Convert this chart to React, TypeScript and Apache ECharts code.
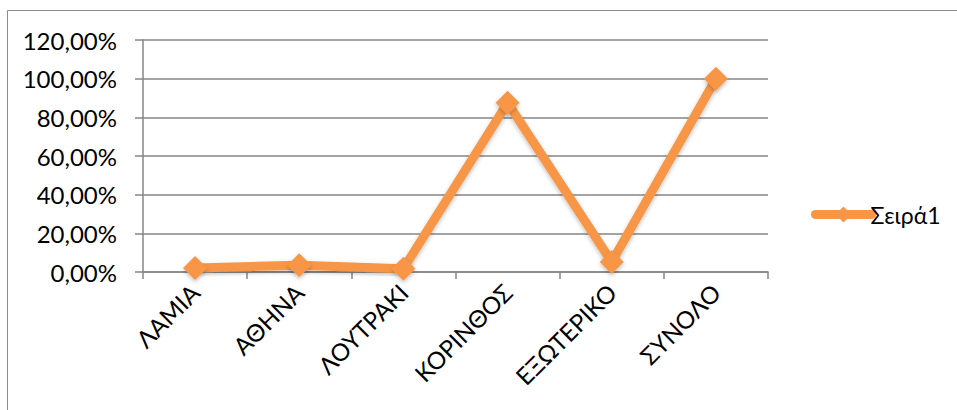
import React, { useEffect, useRef } from "react";
import * as echarts from "echarts";

const categories = ["ΛΑΜΙΑ", "ΑΘΗΝΑ", "ΛΟΥΤΡΑΚΙ", "ΚΟΡΙΝΘΟΣ", "ΕΞΩΤΕΡΙΚΟ", "ΣΥΝΟΛΟ"];
const values = [0.021, 0.035, 0.017, 0.875, 0.052, 1.0];
const seriesName = "Σειρά1";
const yTicks = { min: 0, max: 1.2, interval: 0.2 };

const FONT = "Lato, 'Open Sans', sans-serif";

export default function App() {
  const ref = useRef<HTMLDivElement>(null);
  useEffect(() => {
    if (!ref.current) return;
    const chart = echarts.init(ref.current, undefined, { renderer: "svg" });
    chart.setOption({
      animation: false,
      backgroundColor: "#fff",
      graphic: [
        {
          type: "rect",
          shape: { x: 7.5, y: 10.5, width: 960, height: 410 },
          style: { fill: "none", stroke: "#8c8c8c", lineWidth: 1 },
          silent: true,
        },
      ],
      grid: { left: 143, right: 189, top: 40, bottom: 138, containLabel: false },
      legend: {
        left: 806,
        top: 198,
        itemWidth: 56,
        itemHeight: 20,
        itemGap: 0,
        lineStyle: { width: 9, color: "#F79646", cap: "round" },
        itemStyle: { color: "#F79646" },
        textStyle: { fontFamily: FONT, fontSize: 23, color: "#000", padding: [0, 0, 0, -6] },
        data: [seriesName],
      },
      xAxis: {
        type: "category",
        data: categories,
        boundaryGap: true,
        axisLine: { lineStyle: { color: "#868686", width: 1.5 } },
        axisTick: { show: true, length: 7, lineStyle: { color: "#868686", width: 1.5 } },
        axisLabel: {
          rotate: 45,
          margin: 16,
          fontFamily: FONT,
          fontSize: 24,
          color: "#000",
          interval: 0,
        },
      },
      yAxis: {
        type: "value",
        min: yTicks.min,
        max: yTicks.max,
        interval: yTicks.interval,
        axisLine: { show: true, lineStyle: { color: "#868686", width: 1.5 } },
        axisTick: { show: true, length: 8, lineStyle: { color: "#868686", width: 1.5 } },
        splitLine: { lineStyle: { color: "#868686", width: 1.5 } },
        axisLabel: {
          margin: 26,
          fontFamily: FONT,
          fontSize: 24,
          color: "#000",
          formatter: (v: number) => (v * 100).toFixed(2).replace(".", ",") + "%",
        },
      },
      series: [
        {
          name: seriesName,
          type: "line",
          data: values,
          symbol: "diamond",
          symbolSize: 24,
          lineStyle: {
            color: "#F79646",
            width: 9,
            cap: "round",
            shadowColor: "rgba(0,0,0,0.25)",
            shadowBlur: 4,
            shadowOffsetY: 2,
          },
          itemStyle: {
            color: "#F79646",
            shadowColor: "rgba(0,0,0,0.25)",
            shadowBlur: 4,
            shadowOffsetY: 2,
          },
        },
      ],
    });
    return () => chart.dispose();
  }, []);
  return <div ref={ref} style={{ width: 957, height: 410, position: "absolute", left: 0, top: 0 }} />;
}
